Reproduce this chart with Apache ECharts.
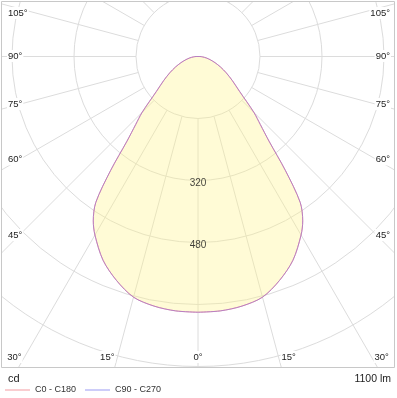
<!DOCTYPE html>
<html>
<head>
<meta charset="utf-8">
<script src="https://cdn.jsdelivr.net/npm/echarts@6/dist/echarts.min.js"></script>
<style>
  html, body { margin: 0; padding: 0; background: #fff; }
  #chart { width: 397px; height: 398px; }
</style>
</head>
<body>
<div id="chart"></div>
<script>
// gamma angle (deg from nadir) and luminous intensity (cd)
const gammaAngles = [0, 5, 10, 15, 20, 25, 30, 32.5, 35, 37.5, 40, 42.5, 45, 50, 55, 60, 65, 70, 75, 80, 85, 90, 95, 180];
const c0c180 = [660, 659, 654, 643, 615, 580, 532, 503, 460, 370, 285, 238, 204, 140, 108, 84, 64, 47, 33, 22, 12, 5, 0, 0];
const c90c270 = [660, 659, 654, 643, 615, 580, 532, 503, 460, 370, 285, 238, 204, 140, 108, 84, 64, 47, 33, 22, 12, 5, 0, 0];
// rings every 160 cd, only two of them carry a label
const ringStep = 160;
const ringMax = 960;
const ringLabels = [320, 480];
const sideAngleLabels = [105, 90, 75, 60, 45];
const bottomAngleLabels = [30, 15, 0];
const legendNames = ['C0 - C180', 'C90 - C270'];
const unitText = 'cd';
const fluxText = '1100 lm';

const cx = 198, cy = 56.5;
const rInner = 62, rOuter = 372;
const FONT = '"Liberation Sans", Arial, sans-serif';

// one C-plane: left half at gamma, right half mirrored at 360 - gamma
function planePoints(vals) {
  const left = gammaAngles.map((g, i) => [vals[i], g]);
  const right = gammaAngles.slice(0, -1).map((g, i) => [vals[i], 360 - g]).reverse();
  return left.concat(right);
}

const chart = echarts.init(document.getElementById('chart'));

const hiddenAngle = {
  type: 'value', min: 0, max: 360, interval: 15, startAngle: 270, clockwise: true,
  axisLine: { show: false }, axisTick: { show: false }, axisLabel: { show: false }
};

//角度标签
let labels = [];
sideAngleLabels.forEach(g => {
  let y = Math.max(13, cy - 0.5 + 179 / Math.tan(g * Math.PI / 180));
  [[7, 'left'], [391, 'right']].forEach(([x, align]) => {
    labels.push({
      type: 'text', z: 52,
      style: { text: g + '°', x: x, y: y, align: align, verticalAlign: 'middle',
        fill: '#222', font: '9.5px ' + FONT, backgroundColor: '#fff', padding: [1, 1] }
    });
  });
});
bottomAngleLabels.forEach(g => {
  let dx = 300.5 * Math.tan(g * Math.PI / 180);
  let sides = g === 0 ? [[cx, 'center']] : [[cx - dx - 2, 'right'], [cx + dx + 2, 'left']];
  sides.forEach(([x, align]) => {
    labels.push({
      type: 'text', z: 52,
      style: { text: g + '°', x: x, y: 357, align: align, verticalAlign: 'middle',
        fill: '#222', font: '9.5px ' + FONT, backgroundColor: '#fff', padding: [1, 1] }
    });
  });
});

const option = {
  backgroundColor: '#fff',
  animation: false,
  polar: [
    { center: [cx, cy], radius: [rInner, rOuter] },
    { center: [cx, cy], radius: [0, rOuter] }
  ],
  angleAxis: [
    Object.assign({ polarIndex: 0, splitLine: { show: true, lineStyle: { color: '#dcdcdc', width: 1 } } }, hiddenAngle),
    Object.assign({ polarIndex: 1, splitLine: { show: false } }, hiddenAngle)
  ],
  radiusAxis: [
    {
      polarIndex: 0, type: 'value', min: ringStep, max: ringMax, interval: ringStep,
      axisLine: { show: false }, axisTick: { show: false }, axisLabel: { show: false },
      splitLine: { show: true, lineStyle: { color: '#dcdcdc', width: 1 } }
    },
    {
      polarIndex: 1, type: 'value', min: 0, max: ringMax,
      axisLine: { show: false }, axisTick: { show: false }, axisLabel: { show: false },
      splitLine: { show: false }
    }
  ],
  legend: {
    data: legendNames, left: 5, top: 385.5, z: 60, icon: 'rect', padding: 0,
    itemWidth: 25, itemHeight: 1, itemGap: 9,
    textStyle: { fontSize: 9, color: '#333', fontFamily: FONT }
  },
  series: [
    {
      name: legendNames[0], type: 'line', coordinateSystem: 'polar', polarIndex: 1,
      data: planePoints(c0c180), symbol: 'none', smooth: 0.3,
      lineStyle: { color: '#ef7f8a', width: 1 },
      itemStyle: { color: '#f29aa0' },
      areaStyle: { color: 'rgba(255,243,138,0.5)' }
    },
    {
      name: legendNames[1], type: 'line', coordinateSystem: 'polar', polarIndex: 1,
      data: planePoints(c90c270), symbol: 'none', smooth: 0.3,
      lineStyle: { color: '#8a7ff0', width: 1, opacity: 0.55 },
      itemStyle: { color: '#9a9af2' }
    },
    {
      type: 'scatter', coordinateSystem: 'polar', polarIndex: 1, z: 5,
      data: ringLabels.map(v => [v, 0]), symbolSize: 0, silent: true,
      label: { show: true, position: 'inside', offset: [0, 2.5], formatter: p => p.value[0],
        fontSize: 10, color: '#111', fontFamily: FONT }
    }
  ],
  graphic: [
    // 框外遮挡
    { type: 'rect', z: 50, shape: { x: 0, y: 368, width: 397, height: 30 }, style: { fill: '#fff' } },
    { type: 'rect', z: 50, shape: { x: 395, y: 0, width: 2, height: 398 }, style: { fill: '#fff' } },
    { type: 'rect', z: 50, shape: { x: 0, y: 0, width: 1, height: 398 }, style: { fill: '#fff' } },
    { type: 'rect', z: 50, shape: { x: 0, y: 0, width: 397, height: 1 }, style: { fill: '#fff' } },
    { type: 'rect', z: 51, shape: { x: 1.5, y: 1.5, width: 393, height: 366 },
      style: { fill: 'none', stroke: '#c8c8c8', lineWidth: 1 } },
    { type: 'text', z: 52, style: { text: unitText, x: 8, y: 379, verticalAlign: 'middle',
      fill: '#222', font: '11px ' + FONT } },
    { type: 'text', z: 52, style: { text: fluxText, x: 391, y: 379, align: 'right', verticalAlign: 'middle',
      fill: '#222', font: '10.5px ' + FONT } }
  ].concat(labels)
};

chart.setOption(option);
</script>
</body>
</html>
